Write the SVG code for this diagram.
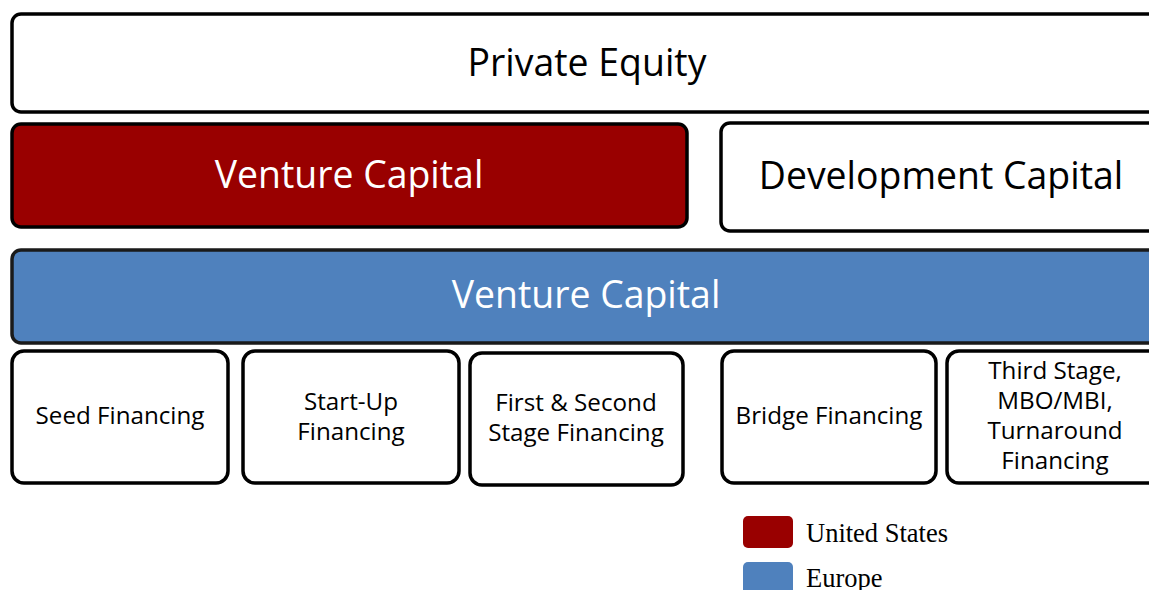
<svg xmlns="http://www.w3.org/2000/svg" width="1149" height="590" viewBox="0 0 1149 590">
  <style>
    .box { stroke: #000; stroke-width: 3.5; }
    .white { fill: #fff; }
    .red { fill: #990000; }
    .blue { fill: #4f81bd; stroke: #1a1a1a; }
    .big { font-family: "Open Sans", "Liberation Sans", sans-serif; font-size: 37.4px; text-anchor: middle; }
    .small { font-family: "Open Sans", "Liberation Sans", sans-serif; font-size: 24.2px; text-anchor: middle; fill: #000; }
    .legend { font-family: "Liberation Serif", serif; font-size: 26.5px; fill: #000; }
  </style>
  <rect width="1149" height="590" fill="#fff"/>

  <g id="private-equity">
    <rect class="box white" x="12" y="14" width="1160" height="98" rx="9"/>
    <text class="big" x="587" y="76" fill="#000">Private Equity</text>
  </g>

  <g id="venture-capital-us">
    <rect class="box red" x="12" y="124" width="675" height="103" rx="9"/>
    <text class="big" x="349" y="188" fill="#fff">Venture Capital</text>
  </g>

  <g id="development-capital">
    <rect class="box white" x="721" y="123" width="450" height="108" rx="9"/>
    <text class="big" x="941" y="189" fill="#000">Development Capital</text>
  </g>

  <g id="venture-capital-eu">
    <rect class="box blue" x="12" y="250" width="1160" height="93" rx="9"/>
    <text class="big" x="586" y="308" fill="#fff">Venture Capital</text>
  </g>

  <g id="seed">
    <rect class="box white" x="12" y="351" width="216" height="132" rx="12"/>
    <text class="small" x="120" y="424">Seed Financing</text>
  </g>

  <g id="start-up">
    <rect class="box white" x="243" y="351" width="216" height="132" rx="12"/>
    <text class="small" x="351" y="410">Start-Up</text>
    <text class="small" x="351" y="440">Financing</text>
  </g>

  <g id="first-second">
    <rect class="box white" x="470" y="353" width="213" height="132" rx="12"/>
    <text class="small" x="576" y="411">First &amp; Second</text>
    <text class="small" x="576" y="441">Stage Financing</text>
  </g>

  <g id="bridge">
    <rect class="box white" x="722" y="351" width="214" height="132" rx="12"/>
    <text class="small" x="829" y="424">Bridge Financing</text>
  </g>

  <g id="third-stage">
    <rect class="box white" x="947" y="351" width="220" height="132" rx="12"/>
    <text class="small" x="1055" y="379">Third Stage,</text>
    <text class="small" x="1055" y="409">MBO/MBI,</text>
    <text class="small" x="1055" y="439">Turnaround</text>
    <text class="small" x="1055" y="469">Financing</text>
  </g>

  <g id="legend">
    <rect x="743" y="516" width="50" height="32" rx="5" fill="#990000"/>
    <text class="legend" x="806" y="542">United States</text>
    <rect x="743" y="562" width="50" height="32" rx="5" fill="#4f81bd"/>
    <text class="legend" x="806" y="587">Europe</text>
  </g>
</svg>
